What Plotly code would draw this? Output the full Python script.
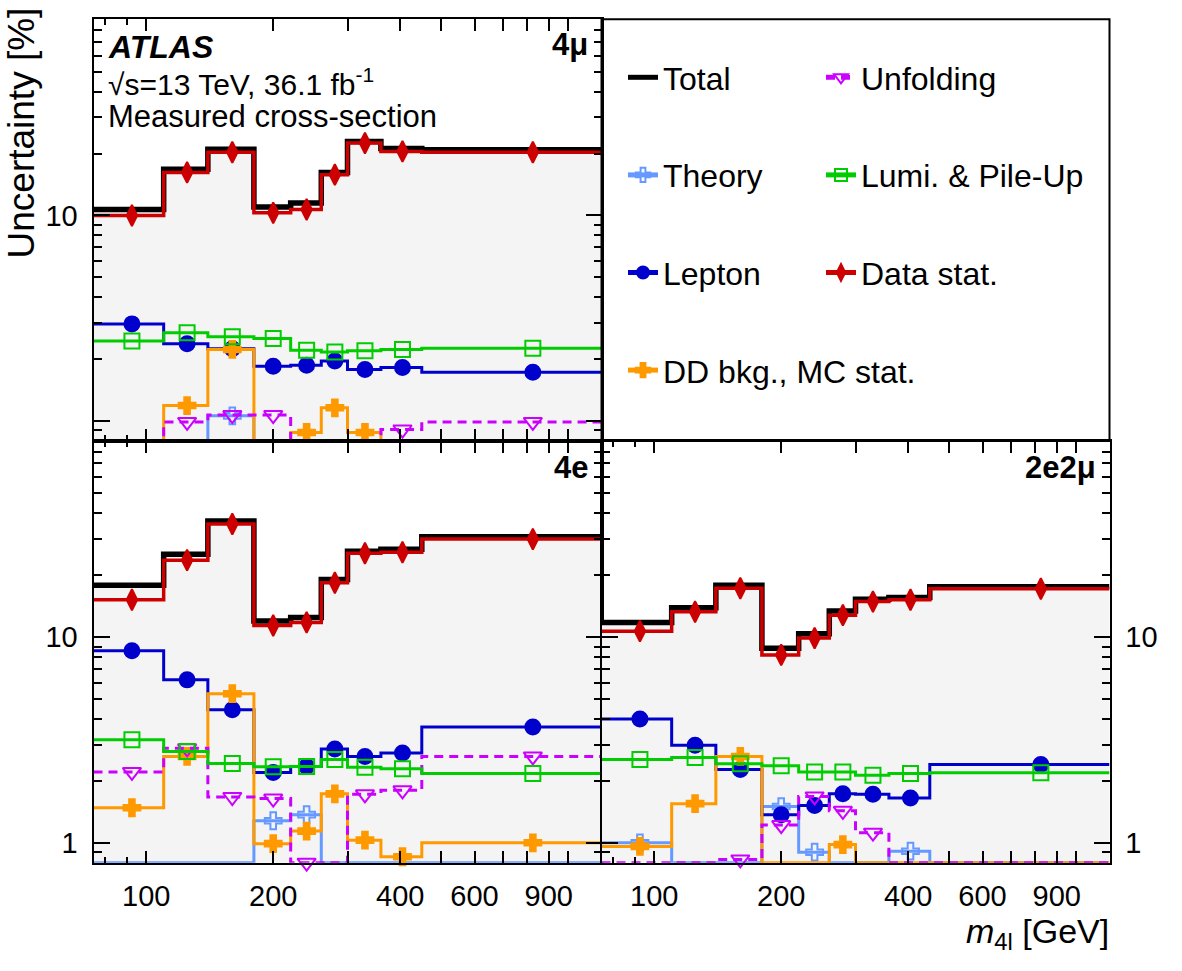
import math
import plotly.graph_objects as go

W, H = 1182, 971
FONT = "Liberation Sans, Arial, Helvetica, sans-serif"

# ---------------- data ----------------
bin_edges = [75, 110, 140, 180, 220, 260, 300, 360, 450, 1200]

# 4mu channel (uncertainty in %)
total_4mu     = [10.7, 16.8, 21.0, 11.0, 11.5, 16.2, 22.9, 21.2, 20.9]
theory_4mu    = [0.5, 0.5, 1.06, 0.5, 0.5, 0.5, 0.5, 0.5, 0.5]
lepton_4mu    = [2.97, 2.38, 2.25, 1.85, 1.87, 1.96, 1.78, 1.82, 1.73]
ddbkg_4mu     = [0.5, 1.19, 2.23, 0.5, 0.88, 1.16, 0.88, 0.5, 0.5]
unfolding_4mu = [0.5, 0.99, 1.07, 1.07, 0.5, 0.5, 0.5, 0.91, 0.99]
lumi_4mu      = [2.45, 2.69, 2.57, 2.52, 2.21, 2.17, 2.20, 2.23, 2.26]
datastat_4mu  = [10.0, 16.2, 20.3, 10.3, 10.7, 15.8, 22.5, 20.5, 20.3]

# 4e channel
total_4e     = [17.9, 25.3, 36.7, 12.0, 12.45, 19.1, 26.2, 26.8, 30.8]
theory_4e    = [0.5, 0.5, 0.5, 1.28, 1.37, 0.5, 0.5, 0.5, 0.5]
lepton_4e    = [8.58, 6.2, 4.44, 2.2, 2.35, 2.86, 2.63, 2.73, 3.66]
ddbkg_4e     = [1.48, 2.63, 5.31, 0.99, 1.14, 1.73, 1.03, 0.855, 1.0]
unfolding_4e = [2.21, 2.88, 1.67, 1.64, 0.79, 0.5, 1.72, 1.80, 2.63]
lumi_4e      = [3.17, 2.78, 2.43, 2.34, 2.35, 2.54, 2.33, 2.29, 2.17]
datastat_4e  = [15.2, 23.7, 35.5, 11.4, 11.8, 18.4, 25.6, 25.9, 30.0]

# 2e2mu channel
total_2e2mu     = [11.8, 13.9, 17.9, 8.84, 10.4, 13.4, 15.3, 15.6, 17.6]
theory_2e2mu    = [1.0, 0.5, 0.5, 1.50, 0.90, 0.5, 0.5, 0.91, 0.5]
lepton_2e2mu    = [4.0, 2.98, 2.27, 1.37, 1.52, 1.73, 1.72, 1.65, 2.40]
ddbkg_2e2mu     = [0.96, 1.55, 2.63, 0.5, 0.5, 0.98, 0.5, 0.5, 0.5]
unfolding_2e2mu = [0.5, 0.5, 0.83, 1.22, 1.68, 1.43, 1.12, 0.5, 0.5]
lumi_2e2mu      = [2.54, 2.60, 2.42, 2.37, 2.21, 2.21, 2.13, 2.17, 2.19]
datastat_2e2mu  = [10.7, 13.3, 17.3, 8.2, 9.9, 12.8, 14.9, 15.2, 17.2]

channel_labels = ["4μ", "4e", "2e2μ"]
x_tick_vals = [100, 200, 300, 400, 500, 600, 700, 800, 900, 1000]
x_tick_text = ["100", "200", "", "400", "", "600", "", "", "900", ""]
x_minor_vals = [80, 90]
y_major_vals = [1, 10]
y_minor_vals = [0.9, 2, 3, 4, 5, 6, 7, 8, 9, 20, 30, 40, 50, 60, 70, 80, 90]
YMIN, YMAX = 0.8, 90

# ---------------- styles ----------------
series_style = {
    "Theory":            dict(color="#6699ff", symbol="cross-open", size=14, dash="solid", lw=3, legend="legend"),
    "Lepton":            dict(color="#0000cc", symbol="circle", size=15, dash="solid", lw=3, legend="legend"),
    "DD bkg., MC stat.": dict(color="#ff9900", symbol="cross", size=14, dash="solid", lw=3, legend="legend"),
    "Unfolding":         dict(color="#cc00ff", symbol="triangle-down-open", size=16, dash="9px,6px", lw=3, legend="legend2"),
    "Lumi. & Pile-Up":   dict(color="#00cc00", symbol="square-open", size=15, dash="solid", lw=3, legend="legend2"),
    "Data stat.":        dict(color="#cc0000", symbol="diamond-tall", size=15, dash="solid", lw=3.5, legend="legend2"),
}

panels = [
    dict(xa="x", ya="y", total=total_4mu, series={
        "Theory": theory_4mu, "Lepton": lepton_4mu, "DD bkg., MC stat.": ddbkg_4mu,
        "Unfolding": unfolding_4mu, "Lumi. & Pile-Up": lumi_4mu, "Data stat.": datastat_4mu}),
    dict(xa="x2", ya="y2", total=total_4e, series={
        "Theory": theory_4e, "Lepton": lepton_4e, "DD bkg., MC stat.": ddbkg_4e,
        "Unfolding": unfolding_4e, "Lumi. & Pile-Up": lumi_4e, "Data stat.": datastat_4e}),
    dict(xa="x3", ya="y3", total=total_2e2mu, series={
        "Theory": theory_2e2mu, "Lepton": lepton_2e2mu, "DD bkg., MC stat.": ddbkg_2e2mu,
        "Unfolding": unfolding_2e2mu, "Lumi. & Pile-Up": lumi_2e2mu, "Data stat.": datastat_2e2mu}),
]


def step_points(edges, vals, msize):
    """Histogram-style step with marker at bin centre (values below frame drawn on frame like ROOT)."""
    xs, ys, sizes = [], [], []
    for i, v in enumerate(vals):
        lo, hi = edges[i], edges[i + 1]
        vd = max(v, YMIN)
        xs += [lo, (lo + hi) / 2]
        ys += [vd, vd]
        sizes += [0, msize if v >= 0.75 else 0]
    xs.append(edges[-1])
    ys.append(max(vals[-1], YMIN))
    sizes.append(0)
    return xs, ys, sizes


fig = go.Figure()
for pi, p in enumerate(panels):
    first = pi == 0
    xs, ys, _ = step_points(bin_edges, p["total"], 0)
    fig.add_trace(go.Scatter(x=xs, y=ys, xaxis=p["xa"], yaxis=p["ya"], mode="lines",
                             line=dict(shape="hv", width=0, color="#f4f4f4"),
                             fill="tozeroy", fillcolor="#f4f4f4", showlegend=False,
                             hoverinfo="skip"))
    fig.add_trace(go.Scatter(x=xs, y=ys, xaxis=p["xa"], yaxis=p["ya"], mode="lines",
                             name="Total", legendgroup="Total", legend="legend",
                             showlegend=first,
                             line=dict(shape="hv", width=5.5, color="black")))
    for name, vals in p["series"].items():
        st = series_style[name]
        xs, ys, sizes = step_points(bin_edges, vals, st["size"])
        fig.add_trace(go.Scatter(
            x=xs, y=ys, xaxis=p["xa"], yaxis=p["ya"], mode="lines+markers",
            name=name, legendgroup=name, legend=st["legend"], showlegend=first,
            cliponaxis=False,
            line=dict(shape="hv", width=st["lw"], color=st["color"], dash=st["dash"]),
            marker=dict(symbol=st["symbol"], size=sizes, color=st["color"], opacity=1,
                        line=dict(width=2, color=st["color"]))))

# ---------------- layout ----------------
def px_x(px):
    return px / W


def px_y(py):
    return 1 - py / H


XL = [px_x(93.5), px_x(601.5)]
XR = [px_x(601.5), px_x(1109.5)]
YT = [px_y(441), px_y(19.3)]
YB = [px_y(862.7), px_y(441)]

tickfont = dict(size=29, color="black", family=FONT)


def xaxis(domain, anchor, labels):
    return dict(domain=domain, anchor=anchor, type="log",
                range=[math.log10(bin_edges[0]), math.log10(bin_edges[-1])],
                showline=True, linecolor="black", linewidth=2, mirror="ticks",
                ticks="inside", ticklen=12, tickwidth=1.5, tickcolor="black",
                tickmode="array", tickvals=x_tick_vals, ticktext=x_tick_text,
                showticklabels=labels, tickfont=tickfont, ticklabelstandoff=6,
                minor=dict(tickmode="array", tickvals=x_minor_vals, ticks="inside",
                           ticklen=6, tickwidth=1.5, tickcolor="black"),
                showgrid=False, zeroline=False)


def yaxis(domain, anchor, text, side="left"):
    return dict(domain=domain, anchor=anchor, type="log", side=side,
                range=[math.log10(YMIN), math.log10(YMAX)],
                showline=True, linecolor="black", linewidth=2, mirror="ticks",
                ticks="inside", ticklen=16, tickwidth=1.5, tickcolor="black",
                tickmode="array", tickvals=y_major_vals, ticktext=text,
                tickfont=tickfont, ticklabelstandoff=8,
                minor=dict(tickmode="array", tickvals=y_minor_vals, ticks="inside",
                           ticklen=8, tickwidth=1.5, tickcolor="black"),
                showgrid=False, zeroline=False)


legend_common = dict(font=dict(size=32, color="black", family=FONT),
                     bgcolor="rgba(0,0,0,0)", borderwidth=0, itemsizing="constant",
                     tracegroupgap=53, xanchor="left", yanchor="top",
                     traceorder="grouped", itemwidth=30)

fig.update_layout(
    width=W, height=H, margin=dict(l=0, r=0, t=0, b=0),
    paper_bgcolor="white", plot_bgcolor="white",
    font=dict(family=FONT, color="black"),
    xaxis=xaxis(XL, "y", False),
    yaxis=yaxis(YT, "x", ["", "10"]),
    xaxis2=xaxis(XL, "y2", True),
    yaxis2=yaxis(YB, "x2", ["1", "10"]),
    xaxis3=xaxis(XR, "y3", True),
    yaxis3=yaxis(YB, "x3", ["1", "10"], side="right"),
    legend=dict(x=px_x(623), y=px_y(50), **legend_common),
    legend2=dict(x=px_x(821), y=px_y(50), **legend_common),
    showlegend=True,
    shapes=[dict(type="rect", xref="paper", yref="paper",
                 x0=XR[0], x1=XR[1], y0=YT[0], y1=YT[1],
                 line=dict(color="black", width=2), fillcolor="rgba(0,0,0,0)")],
)

ann_font = dict(size=31, color="black", family=FONT)
annotations = [
    dict(text="<b><i>ATLAS</i></b>", x=px_x(106), y=px_y(47), xanchor="left", yanchor="middle",
         font=dict(size=32, color="black", family=FONT)),
    dict(text="√s=13 TeV, 36.1 fb<sup>-1</sup>", x=px_x(106), y=px_y(82), xanchor="left", yanchor="middle",
         font=dict(size=30, color="black", family=FONT)),
    dict(text="Measured cross-section", x=px_x(106), y=px_y(117), xanchor="left", yanchor="middle"),
    dict(text="<b>" + channel_labels[0] + "</b>", x=px_x(590), y=px_y(44), xanchor="right", yanchor="middle"),
    dict(text="<b>" + channel_labels[1] + "</b>", x=px_x(590), y=px_y(468), xanchor="right", yanchor="middle"),
    dict(text="<b>" + channel_labels[2] + "</b>", x=px_x(1098), y=px_y(468), xanchor="right", yanchor="middle"),
    dict(text="<i>m</i><sub>4l</sub> [GeV]", x=px_x(1111), y=px_y(933), xanchor="right", yanchor="middle",
         font=dict(size=34, color="black", family=FONT)),
    dict(text="Uncertainty [%]", x=px_x(21), y=px_y(6), xanchor="center", yanchor="top",
         textangle=-90, font=dict(size=37, color="black", family=FONT)),
]
for a in annotations:
    a.setdefault("font", ann_font)
    a.update(xref="paper", yref="paper", showarrow=False)
fig.update_layout(annotations=annotations)

fig.write_html("out.html")
